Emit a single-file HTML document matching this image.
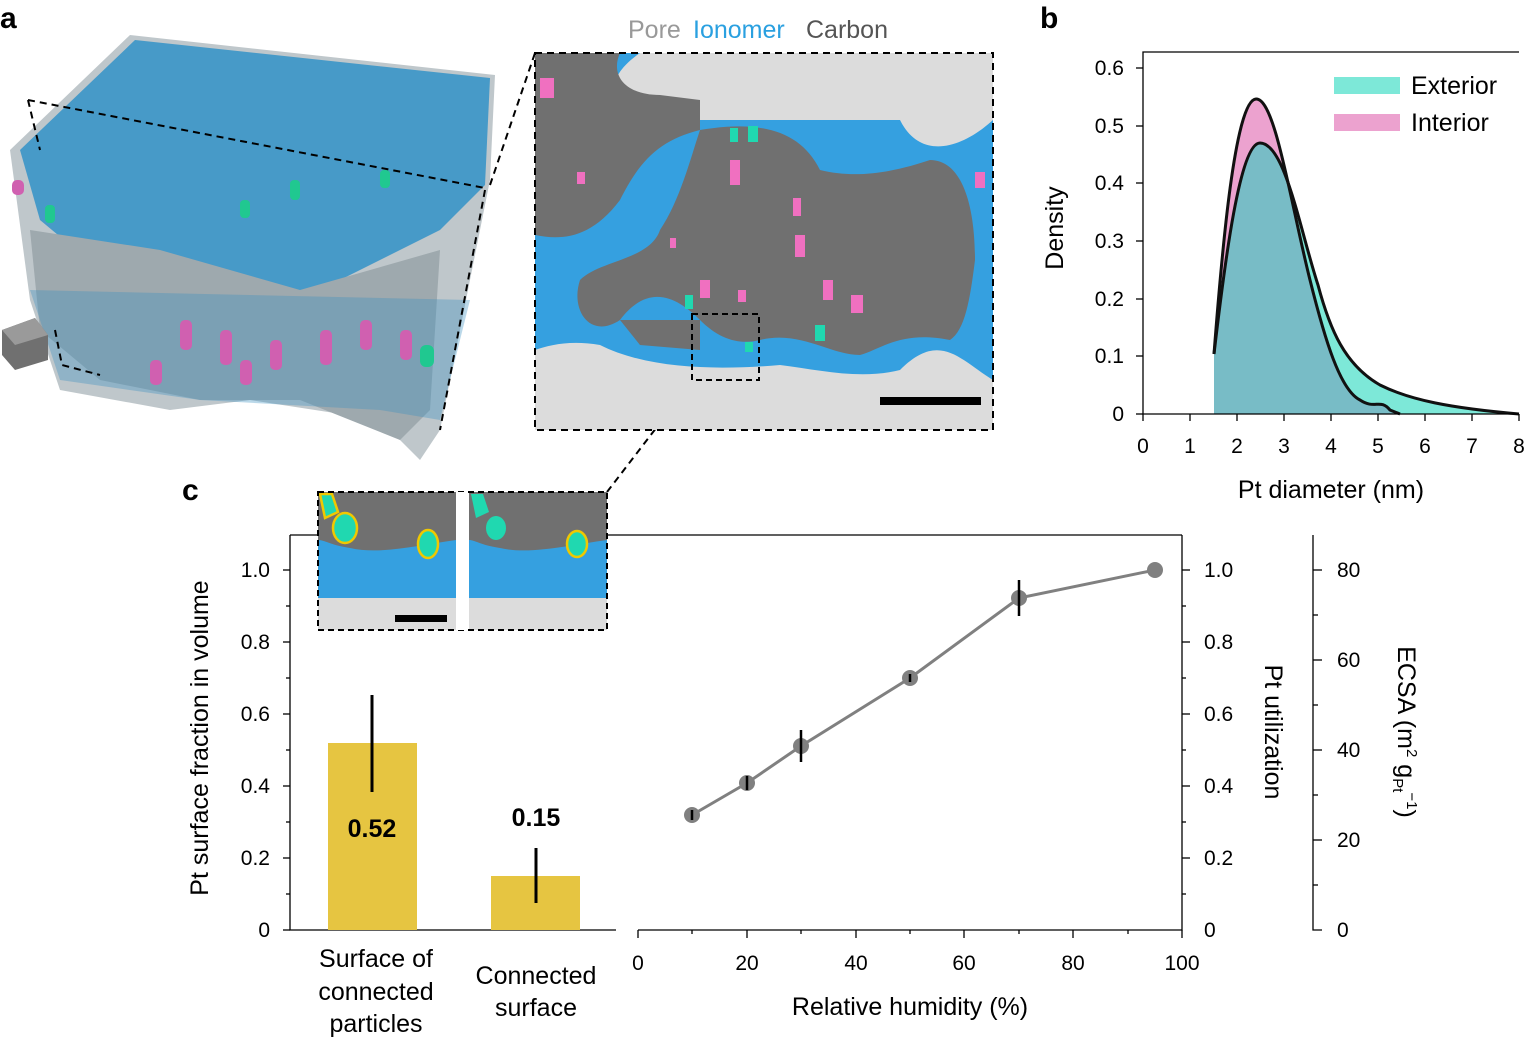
<!DOCTYPE html>
<html><head><meta charset="utf-8"><style>
body{margin:0;background:#fff}
svg{display:block;font-family:"Liberation Sans",sans-serif}
</style></head><body>
<svg width="1526" height="1039" viewBox="0 0 1526 1039" xmlns="http://www.w3.org/2000/svg">
<defs>
<clipPath id="ci"><path d="M1214,414 L1214,354 C1222,250 1235,100 1256,99 C1275,98 1290,200 1310,280 C1325,340 1340,390 1360,400 C1375,410 1380,398 1390,410 L1400,414 Z"/></clipPath>
<clipPath id="sec"><rect x="535" y="53" width="458" height="377"/></clipPath>
</defs>
<!-- panel a 3D block -->
<polygon points="10,150 130,35 495,75 490,180 440,430 420,460 380,420 250,400 170,410 60,390 30,300" fill="#bfc7cb"/>
<polygon points="20,150 135,40 490,78 485,185 440,230 300,300 200,290 100,270 40,220" fill="#3a95c8" opacity="0.9"/>
<polygon points="30,230 160,250 300,290 440,250 430,410 400,440 300,400 200,400 100,380 40,330" fill="#9ea9ae"/>
<polygon points="30,290 470,300 440,420 380,410 200,400 60,380" fill="#3a8fc0" opacity="0.35"/>
<g fill="#d060b0"><rect x="180" y="320" width="12" height="30" rx="5"/><rect x="220" y="330" width="12" height="35" rx="5"/><rect x="270" y="340" width="12" height="30" rx="5"/><rect x="320" y="330" width="12" height="35" rx="5"/><rect x="360" y="320" width="12" height="30" rx="5"/><rect x="400" y="330" width="12" height="30" rx="5"/><rect x="240" y="360" width="12" height="25" rx="5"/><rect x="150" y="360" width="12" height="25" rx="5"/><rect x="12" y="180" width="12" height="15" rx="5"/></g>
<g fill="#20c890"><rect x="290" y="180" width="10" height="20" rx="4"/><rect x="240" y="200" width="10" height="18" rx="4"/><rect x="380" y="170" width="10" height="18" rx="4"/><rect x="420" y="345" width="14" height="22" rx="6"/><rect x="45" y="205" width="10" height="18" rx="4"/></g>
<polygon points="2,330 35,318 48,335 48,360 15,370 2,355" fill="#707070"/>
<polygon points="2,330 35,318 48,335 15,345" fill="#9a9a9a"/>
<g stroke="#000" stroke-width="2" stroke-dasharray="7,5" fill="none">
<polyline points="28,100 485,188"/><line x1="28" y1="100" x2="40" y2="150"/><polyline points="55,330 62,365 100,375"/><line x1="485" y1="190" x2="440" y2="430"/>
<line x1="490" y1="185" x2="535" y2="53"/><line x1="607" y1="492" x2="693" y2="380"/>
</g>
<text x="0" y="28" font-size="30" font-weight="bold">a</text>
<text x="628" y="38" font-size="25" fill="#999">Pore</text>
<text x="693" y="38" font-size="25" fill="#2aa0e0">Ionomer</text>
<text x="806" y="38" font-size="25" fill="#555">Carbon</text>
<!-- cross section -->
<g clip-path="url(#sec)">
<rect x="535" y="53" width="458" height="377" fill="#dcdcdc"/>
<path d="M535,53 L640,53 C600,80 610,110 640,120 L900,120 C920,160 960,150 993,120 L993,380 C960,360 940,330 900,370 C860,380 820,370 780,365 C720,370 650,370 600,345 C570,340 550,345 535,350 Z" fill="#35a0e0"/>
<path d="M535,53 L620,53 C610,75 625,95 660,95 L700,100 L700,130 C660,140 640,160 620,200 C590,240 560,240 535,235 Z" fill="#707070"/>
<path d="M700,130 C760,120 800,130 820,170 C860,180 900,170 930,160 C960,160 975,200 975,260 C970,300 965,330 950,340 C900,330 880,350 860,355 C830,355 800,330 760,340 C740,345 720,340 700,320 C680,300 650,280 620,320 C590,340 570,310 580,280 C600,260 650,260 660,230 C680,200 690,160 700,130 Z" fill="#707070"/>
<path d="M620,320 L700,320 L700,350 L640,345 Z" fill="#707070"/>
<g fill="#f070c0"><rect x="540" y="78" width="14" height="20"/><rect x="730" y="160" width="10" height="25"/><rect x="793" y="198" width="8" height="18"/><rect x="795" y="235" width="10" height="22"/><rect x="823" y="280" width="10" height="20"/><rect x="851" y="295" width="12" height="18"/><rect x="700" y="280" width="10" height="18"/><rect x="738" y="290" width="8" height="12"/><rect x="975" y="172" width="10" height="16"/><rect x="577" y="172" width="8" height="12"/><rect x="670" y="238" width="6" height="10"/></g>
<g fill="#20d8b0"><rect x="730" y="128" width="8" height="14"/><rect x="748" y="126" width="10" height="16"/><rect x="685" y="295" width="8" height="14"/><rect x="815" y="325" width="10" height="16"/><rect x="745" y="342" width="8" height="10"/></g>
</g>
<rect x="535" y="53" width="458" height="377" fill="none" stroke="#000" stroke-width="2" stroke-dasharray="7,5"/>
<rect x="692" y="314" width="67" height="66" fill="none" stroke="#000" stroke-width="2" stroke-dasharray="6,4"/>
<rect x="880" y="397" width="101" height="8" fill="#000"/>
<!-- panel b -->
<text x="1040" y="28" font-size="30" font-weight="bold">b</text>
<path id="ext" d="M1214,414 L1214,354 C1225,260 1240,143 1260,143 C1285,143 1300,230 1318,285 C1330,330 1345,365 1380,385 C1410,400 1450,408 1519,414 Z" fill="#7de8d8"/>
<path d="M1214,414 L1214,354 C1222,250 1235,100 1256,99 C1275,98 1290,200 1310,280 C1325,340 1340,390 1360,400 C1375,410 1380,398 1390,410 L1400,414 Z" fill="#eca2cf"/>
<path d="M1214,414 L1214,354 C1225,260 1240,143 1260,143 C1285,143 1300,230 1318,285 C1330,330 1345,365 1380,385 C1410,400 1450,408 1519,414 Z" fill="#78bcc6" clip-path="url(#ci)"/>
<path d="M1214,354 C1225,260 1240,143 1260,143 C1285,143 1300,230 1318,285 C1330,330 1345,365 1380,385 C1410,400 1450,408 1519,414" fill="none" stroke="#111" stroke-width="3"/>
<path d="M1214,354 C1222,250 1235,100 1256,99 C1275,98 1290,200 1310,280 C1325,340 1340,390 1360,400 C1375,410 1380,398 1390,410 L1400,414" fill="none" stroke="#111" stroke-width="3"/>
<g stroke="#000" stroke-width="1.3">
<polyline points="1519,52 1143,52 1143,414 1519,414" fill="none"/>
<line x1="1136" y1="68" x2="1143" y2="68"/><line x1="1136" y1="126" x2="1143" y2="126"/><line x1="1136" y1="183" x2="1143" y2="183"/><line x1="1136" y1="241" x2="1143" y2="241"/><line x1="1136" y1="299" x2="1143" y2="299"/><line x1="1136" y1="356" x2="1143" y2="356"/><line x1="1136" y1="414" x2="1143" y2="414"/>
<line x1="1143" y1="414" x2="1143" y2="421"/><line x1="1190" y1="414" x2="1190" y2="421"/><line x1="1237" y1="414" x2="1237" y2="421"/><line x1="1284" y1="414" x2="1284" y2="421"/><line x1="1331" y1="414" x2="1331" y2="421"/><line x1="1378" y1="414" x2="1378" y2="421"/><line x1="1425" y1="414" x2="1425" y2="421"/><line x1="1472" y1="414" x2="1472" y2="421"/><line x1="1519" y1="414" x2="1519" y2="421"/>
</g>
<g font-size="21" text-anchor="end"><text x="1124" y="75">0.6</text><text x="1124" y="133">0.5</text><text x="1124" y="190">0.4</text><text x="1124" y="248">0.3</text><text x="1124" y="306">0.2</text><text x="1124" y="363">0.1</text><text x="1124" y="421">0</text></g>
<g font-size="21" text-anchor="middle"><text x="1143" y="453">0</text><text x="1190" y="453">1</text><text x="1237" y="453">2</text><text x="1284" y="453">3</text><text x="1331" y="453">4</text><text x="1378" y="453">5</text><text x="1425" y="453">6</text><text x="1472" y="453">7</text><text x="1519" y="453">8</text></g>
<text x="1331" y="498" font-size="25" text-anchor="middle">Pt diameter (nm)</text>
<text transform="translate(1063,228) rotate(-90)" font-size="25" text-anchor="middle">Density</text>
<rect x="1334" y="77" width="66" height="17" fill="#7de8d8"/><text x="1411" y="94" font-size="25">Exterior</text>
<rect x="1334" y="114" width="66" height="17" fill="#eca2cf"/><text x="1411" y="131" font-size="25">Interior</text>
<!-- panel c -->
<text x="182" y="500" font-size="30" font-weight="bold">c</text>
<g stroke="#000" stroke-width="1.3" fill="none">
<polyline points="290,535 290,930 616,930"/><line x1="290" y1="535" x2="318" y2="535"/><line x1="607" y1="535" x2="1182" y2="535"/>
<polyline points="638,930 1182,930 1182,535"/><polyline points="1313,535 1313,930 1322,930"/>
</g>
<g stroke="#000" stroke-width="1.3">
<line x1="283" y1="570" x2="290" y2="570"/><line x1="283" y1="642" x2="290" y2="642"/><line x1="283" y1="714" x2="290" y2="714"/><line x1="283" y1="786" x2="290" y2="786"/><line x1="283" y1="858" x2="290" y2="858"/><line x1="283" y1="930" x2="290" y2="930"/>
<line x1="286" y1="606" x2="290" y2="606"/><line x1="286" y1="678" x2="290" y2="678"/><line x1="286" y1="750" x2="290" y2="750"/><line x1="286" y1="822" x2="290" y2="822"/><line x1="286" y1="894" x2="290" y2="894"/>
<line x1="1182" y1="570" x2="1190" y2="570"/><line x1="1182" y1="642" x2="1190" y2="642"/><line x1="1182" y1="714" x2="1190" y2="714"/><line x1="1182" y1="786" x2="1190" y2="786"/><line x1="1182" y1="858" x2="1190" y2="858"/>
<line x1="1182" y1="606" x2="1186" y2="606"/><line x1="1182" y1="678" x2="1186" y2="678"/><line x1="1182" y1="750" x2="1186" y2="750"/><line x1="1182" y1="822" x2="1186" y2="822"/><line x1="1182" y1="894" x2="1186" y2="894"/>
<line x1="1313" y1="570" x2="1322" y2="570"/><line x1="1313" y1="660" x2="1322" y2="660"/><line x1="1313" y1="750" x2="1322" y2="750"/><line x1="1313" y1="840" x2="1322" y2="840"/>
<line x1="1313" y1="615" x2="1318" y2="615"/><line x1="1313" y1="705" x2="1318" y2="705"/><line x1="1313" y1="795" x2="1318" y2="795"/><line x1="1313" y1="885" x2="1318" y2="885"/>
<line x1="638" y1="930" x2="638" y2="938"/><line x1="747" y1="930" x2="747" y2="938"/><line x1="856" y1="930" x2="856" y2="938"/><line x1="964" y1="930" x2="964" y2="938"/><line x1="1073" y1="930" x2="1073" y2="938"/><line x1="1182" y1="930" x2="1182" y2="938"/>
<line x1="692" y1="930" x2="692" y2="934"/><line x1="801" y1="930" x2="801" y2="934"/><line x1="910" y1="930" x2="910" y2="934"/><line x1="1019" y1="930" x2="1019" y2="934"/><line x1="1128" y1="930" x2="1128" y2="934"/>
</g>
<g font-size="21" text-anchor="end"><text x="270" y="577">1.0</text><text x="270" y="649">0.8</text><text x="270" y="721">0.6</text><text x="270" y="793">0.4</text><text x="270" y="865">0.2</text><text x="270" y="937">0</text></g>
<g font-size="21"><text x="1204" y="577">1.0</text><text x="1204" y="649">0.8</text><text x="1204" y="721">0.6</text><text x="1204" y="793">0.4</text><text x="1204" y="865">0.2</text><text x="1204" y="937">0</text>
<text x="1337" y="577">80</text><text x="1337" y="667">60</text><text x="1337" y="757">40</text><text x="1337" y="847">20</text><text x="1337" y="937">0</text></g>
<g font-size="21" text-anchor="middle"><text x="638" y="970">0</text><text x="747" y="970">20</text><text x="856" y="970">40</text><text x="964" y="970">60</text><text x="1073" y="970">80</text><text x="1182" y="970">100</text></g>
<text x="910" y="1015" font-size="25" text-anchor="middle">Relative humidity (%)</text>
<text transform="translate(208,738) rotate(-90)" font-size="25" text-anchor="middle">Pt surface fraction in volume</text>
<text transform="translate(1265,732) rotate(90)" font-size="25" text-anchor="middle">Pt utilization</text>
<text transform="translate(1398,732) rotate(90)" font-size="25" text-anchor="middle">ECSA (m<tspan font-size="15" dy="-9">2</tspan><tspan dy="9"> g</tspan><tspan font-size="15" dy="5">Pt</tspan><tspan font-size="15" dy="-14">−1</tspan><tspan dy="9">)</tspan></text>
<rect x="328" y="743" width="89" height="187" fill="#e6c541"/>
<rect x="491" y="876" width="89" height="54" fill="#e6c541"/>
<line x1="372" y1="695" x2="372" y2="792" stroke="#000" stroke-width="3"/>
<line x1="536" y1="848" x2="536" y2="903" stroke="#000" stroke-width="3"/>
<text x="372" y="837" font-size="25" font-weight="bold" text-anchor="middle">0.52</text>
<text x="536" y="826" font-size="25" font-weight="bold" text-anchor="middle">0.15</text>
<g font-size="25" text-anchor="middle"><text x="376" y="967">Surface of</text><text x="376" y="1000">connected</text><text x="376" y="1032">particles</text><text x="536" y="984">Connected</text><text x="536" y="1016">surface</text></g>
<polyline points="692,815 747,783 801,746 910,678 1019,598 1155,570" fill="none" stroke="#808080" stroke-width="3"/>
<g fill="#808080"><circle cx="692" cy="815" r="8"/><circle cx="747" cy="783" r="8"/><circle cx="801" cy="746" r="8"/><circle cx="910" cy="678" r="8"/><circle cx="1019" cy="598" r="8"/><circle cx="1155" cy="570" r="8"/></g>
<g stroke="#000" stroke-width="2.5"><line x1="692" y1="810" x2="692" y2="820"/><line x1="747" y1="776" x2="747" y2="790"/><line x1="801" y1="730" x2="801" y2="762"/><line x1="910" y1="674" x2="910" y2="682"/><line x1="1019" y1="580" x2="1019" y2="616"/></g>
<!-- inset -->
<rect x="318" y="492" width="289" height="138" fill="#fff"/>
<g>
<rect x="318" y="492" width="138" height="138" fill="#dcdcdc"/><rect x="318" y="530" width="138" height="68" fill="#35a0e0"/><path d="M318,492 H456 V540 C420,545 380,555 350,548 C330,545 325,540 318,540 Z" fill="#707070"/>
<rect x="469" y="492" width="138" height="138" fill="#dcdcdc"/><rect x="469" y="530" width="138" height="68" fill="#35a0e0"/><path d="M469,492 H607 V540 C570,545 530,555 500,548 C480,545 475,540 469,540 Z" fill="#707070"/>
<g fill="#20d8b0" stroke="#f0c800" stroke-width="2.5"><ellipse cx="345" cy="528" rx="12" ry="15"/><ellipse cx="428" cy="544" rx="10" ry="14"/><path d="M320,494 L332,494 L338,512 L325,518 Z"/></g>
<g fill="#20d8b0"><ellipse cx="496" cy="528" rx="10" ry="12"/><path d="M471,494 L483,494 L489,512 L476,518 Z"/></g>
<path d="M567,544 a10,13 0 1,0 20,0 a10,13 0 1,0 -20,0" fill="#20d8b0" stroke="#f0c800" stroke-width="2.5"/>
<rect x="395" y="615" width="52" height="7" fill="#000"/>
</g>
<rect x="318" y="492" width="289" height="138" fill="none" stroke="#000" stroke-width="2" stroke-dasharray="6,4"/>
<rect x="457" y="492" width="11" height="138" fill="#fff"/>
</svg>
</body></html>
